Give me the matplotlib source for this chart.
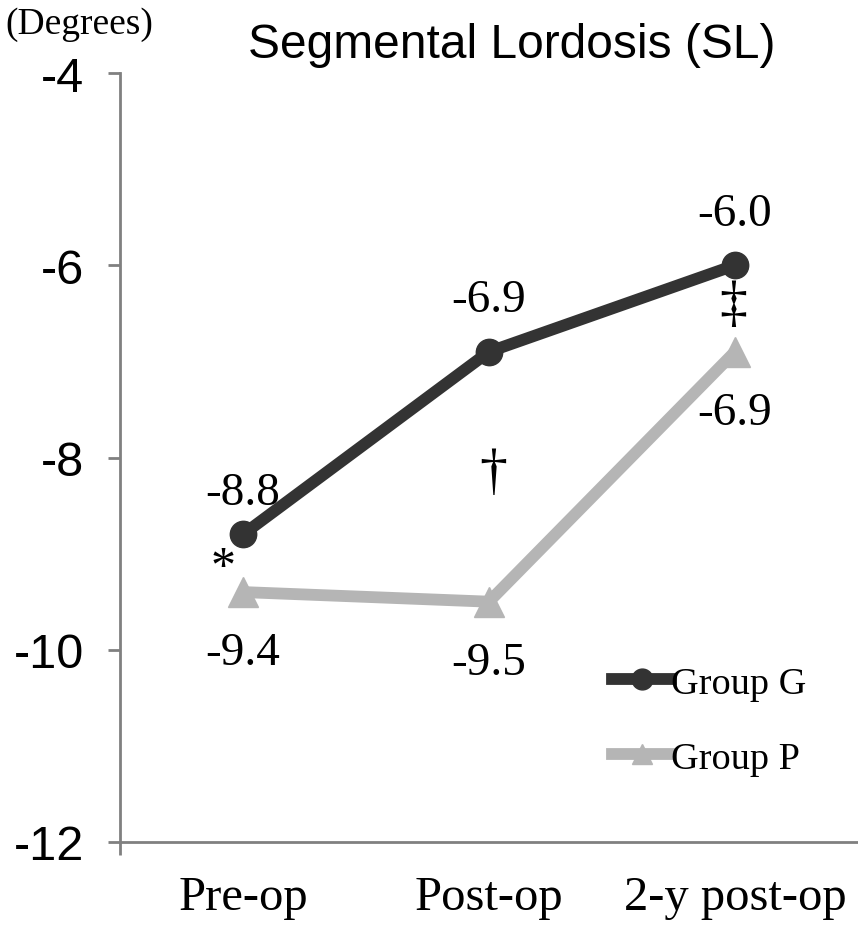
import matplotlib.pyplot as plt
from matplotlib.lines import Line2D

# values
stages = ['Pre-op', 'Post-op', '2-y post-op']
group_g = [-8.8, -6.9, -6.0]
group_p = [-9.4, -9.5, -6.9]
y_ticks = [-4, -6, -8, -10, -12]
marks = ['*', '\u2020', '\u2021']  # placed relative to the Group P points

dark = '#333333'
light = '#b5b5b5'
axis_col = '#808080'

fig = plt.figure(figsize=(8.58, 9.29), dpi=100)
ax = fig.add_axes([120 / 858, 1 - 843 / 929, 738 / 858, (843 - 74) / 929])

x = [i + 0.5 for i in range(len(stages))]
ax.plot(x, group_g, color=dark, lw=8.5, marker='o', ms=19, zorder=3,
        solid_capstyle='round')
ax.plot(x, group_p, color=light, lw=8.5, marker='^', ms=22, zorder=2,
        solid_capstyle='round')

ax.set_xlim(0, 3)
ax.set_ylim(-12, -4)

# spines
for s in ['top', 'right']:
    ax.spines[s].set_visible(False)
for s in ['left', 'bottom']:
    ax.spines[s].set_color(axis_col)
    ax.spines[s].set_linewidth(2)

ax.set_yticks(y_ticks)
ax.set_yticklabels([str(v) for v in y_ticks], family='Liberation Sans', fontsize=35)
ax.tick_params(axis='y', direction='out', length=9, width=2, color=axis_col, pad=17)

ax.set_xticks([0])
ax.set_xticklabels([''])
ax.set_xticks(x, minor=True)
ax.set_xticklabels(stages, minor=True, family='Liberation Serif', fontsize=35)
ax.tick_params(axis='x', which='major', direction='out', length=9, width=2, color=axis_col)
ax.tick_params(axis='x', which='minor', length=0, pad=24)

# value labels
for xi, v in zip(x, group_g):
    off = 42 if v == group_g[0] else 52
    ax.annotate(f'{v:.1f}', (xi, v), xytext=(0, off), textcoords='offset pixels',
                ha='center', va='center', family='Liberation Serif', fontsize=34)
for xi, v in zip(x, group_p):
    ax.annotate(f'{v:.1f}', (xi, v), xytext=(0, -61), textcoords='offset pixels',
                ha='center', va='center', family='Liberation Serif', fontsize=34)

# significance marks
mark_off = [(-20, 24), (4, 129), (-2, 47)]
mark_size = [36, 40, 40]
for xi, v, m, (dx, dy), fs in zip(x, group_p, marks, mark_off, mark_size):
    ax.annotate(m, (xi, v), xytext=(dx, dy), textcoords='offset pixels',
                ha='center', va='center', family='Liberation Serif', fontsize=fs)

fig.text(512 / 858, 1 - 45 / 929, 'Segmental Lordosis (SL)', ha='center', va='center',
         family='Liberation Sans', fontsize=34.5)
fig.text(5 / 858, 1 - 25 / 929, '(Degrees)', ha='left', va='center',
         family='Liberation Serif', fontsize=27)

handles = [Line2D([], [], color=dark, lw=8.5, marker='o', ms=15),
           Line2D([], [], color=light, lw=8.5, marker='^', ms=15)]
ax.legend(handles, ['Group G', 'Group P'], loc='upper left',
          bbox_to_anchor=(612 / 858, 1 - 667 / 929), bbox_transform=fig.transFigure,
          frameon=False, prop={'family': 'Liberation Serif', 'size': 27.5},
          handlelength=1.55, handletextpad=0.0, labelspacing=1.05, borderpad=0,
          borderaxespad=0)

fig.savefig('out.png', dpi=100, facecolor='white')
